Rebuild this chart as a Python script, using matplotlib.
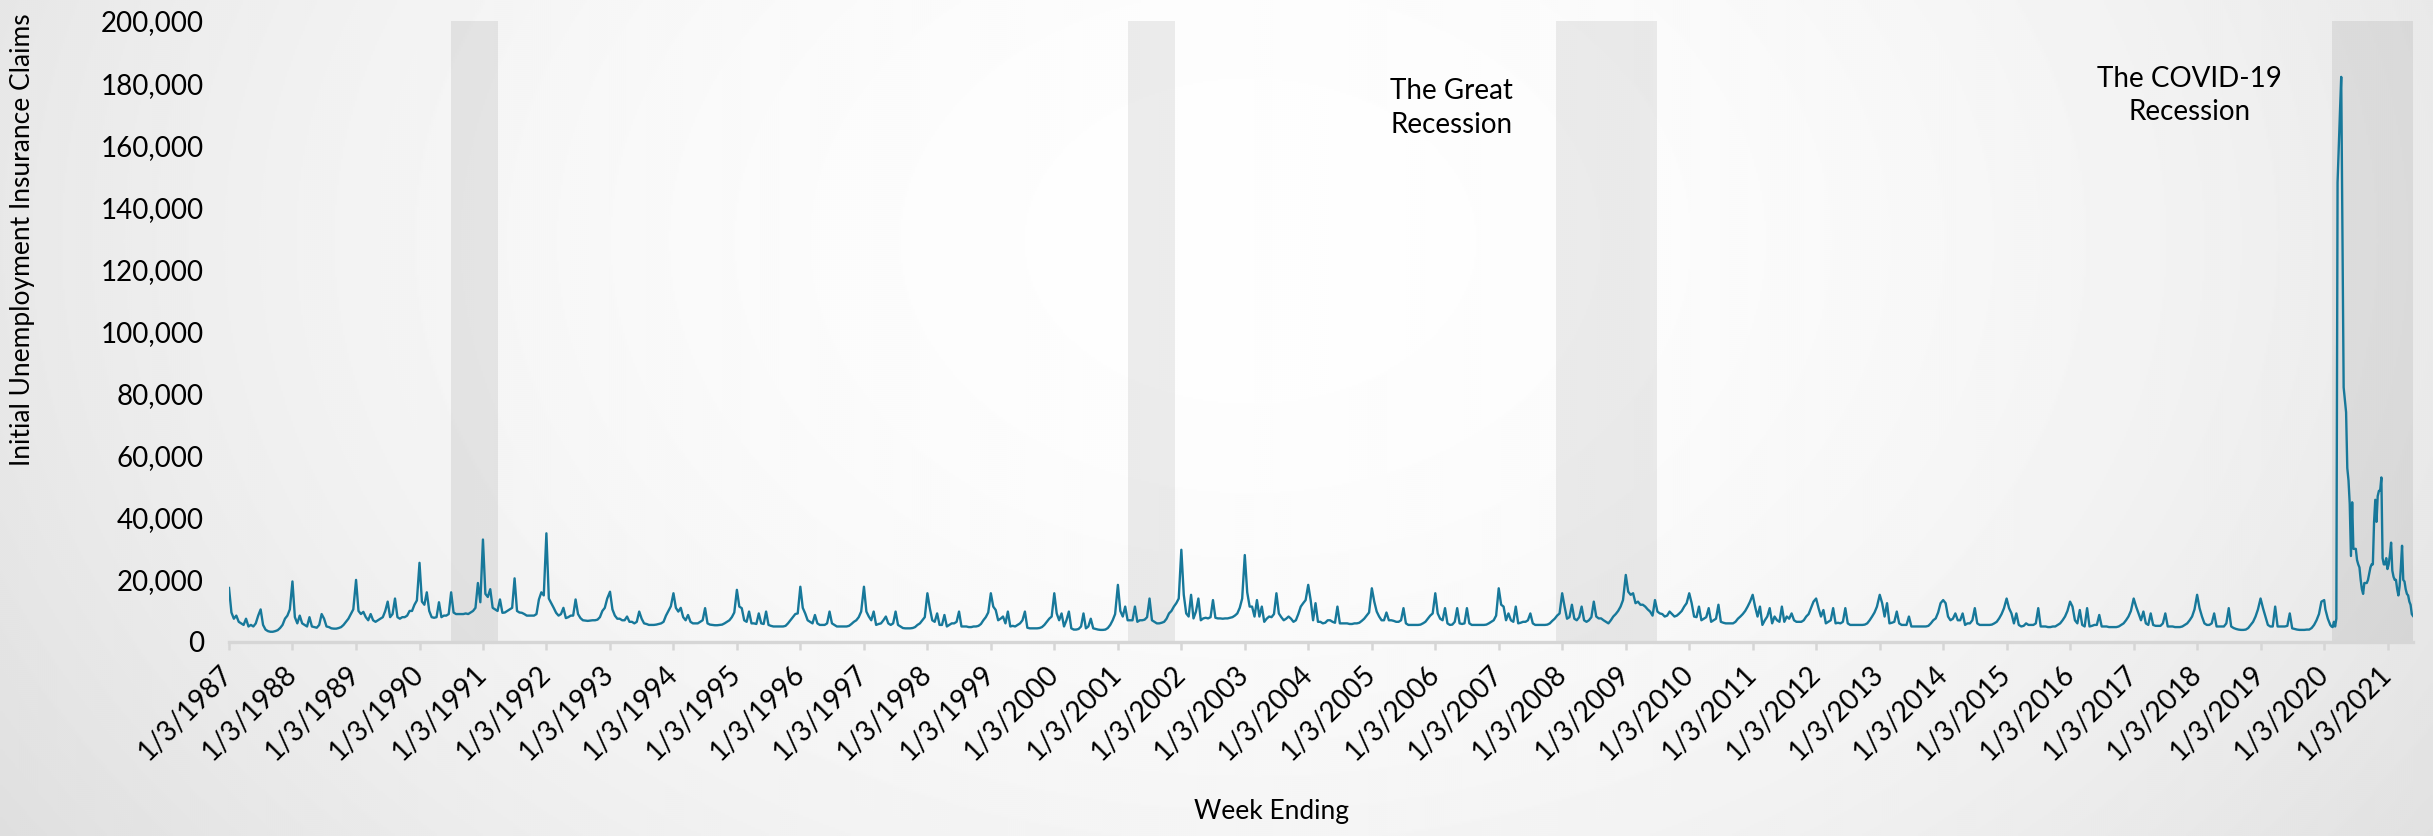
import numpy as np
import pandas as pd
import matplotlib
matplotlib.use("Agg")
import matplotlib.pyplot as plt
from matplotlib.ticker import FuncFormatter

# ---------------- data (thousands of initial claims) ----------------
# bi-weekly readings, first value = week ending Jan 3 of each year
claims_1987 = [17.4, 9.5, 7.5, 8.5, 6.5, 6.0, 5.5, 7.5, 5.0, 5.5, 5.0, 6.0, 8.5, 10.5, 5.5, 4.0, 3.5, 3.3, 3.3, 3.5, 3.8, 4.5, 5.5, 7.5, 8.5, 10.5]
claims_1988 = [19.5, 8.0, 6.0, 8.5, 6.0, 5.5, 5.0, 8.0, 5.0, 4.8, 4.6, 5.5, 9.0, 7.5, 5.0, 4.8, 4.4, 4.3, 4.3, 4.5, 4.8, 5.5, 6.5, 7.5, 9.0, 10.5]
claims_1989 = [20.0, 10.0, 9.0, 9.7, 8.0, 7.0, 9.0, 7.0, 6.5, 7.0, 7.5, 8.0, 10.0, 13.0, 8.0, 9.0, 14.0, 8.0, 7.5, 8.0, 8.0, 8.5, 10.0, 10.0, 12.0, 13.4]
claims_1990 = [25.5, 13.0, 12.0, 16.0, 10.0, 8.0, 7.8, 8.0, 12.8, 8.0, 8.5, 8.5, 9.0, 16.0, 9.5, 9.0, 9.0, 9.0, 9.0, 9.2, 9.0, 9.5, 10.0, 11.0, 19.0, 12.8]
claims_1991 = [33.0, 15.5, 14.5, 17.0, 11.0, 10.5, 10.0, 13.7, 9.4, 9.5, 10.0, 10.5, 11.0, 20.5, 10.0, 9.5, 9.4, 9.0, 8.5, 8.5, 8.5, 8.5, 9.0, 13.7, 16.0, 15.0]
claims_1992 = [35.0, 14.0, 12.5, 11.0, 9.4, 8.5, 9.0, 11.0, 7.7, 8.0, 8.5, 8.5, 13.7, 9.0, 7.7, 7.0, 6.9, 6.8, 6.9, 7.0, 7.0, 7.2, 8.0, 10.0, 11.0, 14.0]
claims_1993 = [16.2, 10.5, 8.5, 7.5, 7.5, 7.0, 7.0, 8.2, 6.5, 6.5, 6.0, 6.5, 9.8, 7.5, 6.0, 5.8, 5.5, 5.5, 5.5, 5.6, 5.8, 6.0, 6.5, 8.5, 10.0, 11.5]
claims_1994 = [15.7, 11.0, 9.8, 11.0, 8.0, 7.0, 8.7, 6.5, 6.0, 6.0, 6.0, 6.5, 7.0, 10.9, 6.0, 5.6, 5.5, 5.4, 5.4, 5.5, 5.6, 6.0, 6.5, 7.0, 8.0, 9.5]
claims_1995 = [16.8, 11.4, 10.9, 7.0, 6.5, 9.8, 6.0, 6.0, 5.8, 9.2, 6.0, 5.8, 9.8, 5.5, 5.2, 5.0, 5.0, 5.0, 5.0, 5.0, 5.2, 6.0, 7.0, 8.0, 9.0, 9.2]
claims_1996 = [17.8, 11.0, 9.2, 7.0, 6.5, 6.0, 8.7, 6.0, 5.5, 5.5, 5.5, 6.0, 9.8, 6.0, 5.5, 5.0, 5.0, 5.0, 5.0, 5.0, 5.2, 5.8, 6.5, 7.0, 8.0, 9.8]
claims_1997 = [17.8, 9.8, 8.2, 7.0, 9.8, 5.5, 5.8, 6.0, 7.0, 8.2, 6.0, 5.5, 6.0, 9.8, 5.5, 5.0, 4.5, 4.4, 4.4, 4.4, 4.5, 4.8, 5.5, 6.0, 7.0, 8.0]
claims_1998 = [15.7, 10.9, 7.0, 6.5, 9.2, 5.5, 5.5, 8.7, 5.0, 5.5, 6.0, 6.0, 6.5, 9.8, 5.0, 5.0, 5.0, 4.8, 4.8, 5.0, 5.0, 5.2, 5.8, 7.0, 8.0, 9.5]
claims_1999 = [15.7, 11.4, 10.3, 7.0, 7.5, 8.2, 6.0, 9.8, 5.0, 5.2, 5.0, 5.5, 6.0, 7.0, 9.8, 4.6, 4.4, 4.4, 4.4, 4.4, 4.5, 4.8, 5.5, 6.5, 7.5, 8.2]
claims_2000 = [15.7, 9.2, 7.0, 9.2, 5.0, 7.0, 9.8, 4.4, 4.0, 4.0, 4.2, 5.0, 9.2, 4.4, 5.0, 7.5, 4.4, 4.2, 4.0, 3.9, 3.9, 4.0, 4.5, 5.5, 7.0, 9.0]
claims_2001 = [18.4, 10.0, 8.2, 11.4, 7.0, 7.0, 7.0, 11.4, 6.5, 7.0, 7.0, 7.2, 8.0, 14.0, 7.0, 6.5, 6.0, 6.0, 6.2, 6.5, 7.5, 9.2, 10.0, 11.4, 12.5, 14.0]
claims_2002 = [29.7, 15.2, 9.2, 8.2, 15.2, 7.6, 9.8, 14.0, 7.0, 7.6, 7.8, 7.6, 8.0, 13.5, 7.8, 7.6, 7.6, 7.5, 7.6, 7.6, 7.8, 8.0, 8.5, 9.2, 11.0, 14.0]
claims_2003 = [28.0, 16.0, 11.4, 11.4, 8.2, 13.5, 8.2, 11.4, 6.5, 7.5, 8.2, 8.0, 9.0, 15.7, 9.2, 8.0, 7.0, 7.5, 8.2, 7.5, 6.5, 7.0, 9.0, 11.4, 12.5, 13.5]
claims_2004 = [18.4, 13.5, 7.0, 12.5, 6.5, 6.5, 6.0, 6.2, 7.0, 7.0, 6.5, 6.2, 11.4, 6.0, 6.0, 6.0, 6.0, 5.8, 5.8, 6.0, 6.0, 6.2, 6.8, 7.5, 8.5, 9.5]
claims_2005 = [17.3, 13.0, 9.8, 8.2, 7.0, 7.0, 9.5, 7.0, 7.0, 6.8, 6.5, 6.5, 7.0, 10.9, 6.0, 5.5, 5.5, 5.5, 5.5, 5.5, 5.6, 6.0, 6.5, 7.5, 8.5, 9.2]
claims_2006 = [15.7, 9.2, 7.5, 7.0, 10.9, 6.0, 5.5, 5.6, 6.5, 10.9, 6.0, 5.8, 6.0, 10.9, 6.0, 5.5, 5.5, 5.5, 5.5, 5.5, 5.5, 5.6, 6.0, 6.5, 7.0, 8.5]
claims_2007 = [17.3, 12.0, 11.4, 7.0, 9.2, 7.0, 6.5, 11.4, 6.0, 6.2, 6.5, 6.5, 7.0, 9.2, 6.0, 5.5, 5.5, 5.5, 5.5, 5.5, 5.6, 6.0, 6.8, 7.5, 8.5, 9.2]
claims_2008 = [15.7, 11.4, 7.5, 8.0, 12.0, 7.5, 7.0, 8.0, 11.4, 7.0, 6.5, 7.0, 8.0, 13.0, 8.2, 7.6, 7.6, 7.0, 6.5, 6.0, 7.0, 8.2, 9.0, 10.0, 11.4, 13.5]
claims_2009 = [21.6, 16.2, 15.2, 15.7, 12.5, 13.0, 12.0, 12.0, 11.4, 10.5, 9.8, 8.5, 13.5, 9.8, 9.2, 9.0, 8.2, 8.5, 9.8, 9.0, 8.2, 8.5, 9.2, 10.0, 11.4, 12.5]
claims_2010 = [15.7, 12.5, 8.2, 8.0, 11.4, 7.0, 7.5, 8.0, 10.9, 6.5, 7.0, 7.5, 12.0, 6.5, 6.2, 6.0, 6.0, 6.0, 6.0, 6.5, 7.5, 8.2, 9.0, 10.0, 11.4, 13.0]
claims_2011 = [15.2, 11.4, 8.2, 11.4, 5.5, 7.0, 8.2, 10.9, 6.0, 8.2, 7.0, 6.5, 11.4, 6.5, 8.2, 7.5, 9.2, 7.0, 6.5, 6.5, 6.5, 7.0, 8.2, 9.0, 11.0, 13.0]
claims_2012 = [14.0, 10.9, 8.2, 10.3, 6.0, 6.5, 7.0, 10.9, 6.0, 6.2, 6.0, 6.5, 10.9, 6.0, 5.5, 5.5, 5.5, 5.5, 5.5, 5.5, 5.6, 6.0, 7.0, 8.2, 9.5, 11.4]
claims_2013 = [15.2, 12.5, 8.2, 12.5, 6.0, 6.2, 6.5, 9.8, 6.0, 5.5, 5.5, 5.5, 8.2, 5.0, 5.0, 5.0, 5.0, 5.0, 5.0, 5.0, 5.2, 6.0, 7.0, 7.6, 9.5, 12.5]
claims_2014 = [13.5, 12.5, 8.2, 7.0, 7.5, 9.2, 7.0, 7.0, 9.2, 5.5, 6.0, 6.0, 7.0, 10.9, 6.0, 5.5, 5.5, 5.5, 5.5, 5.5, 5.6, 6.0, 6.5, 7.6, 9.0, 10.9]
claims_2015 = [14.0, 10.9, 9.2, 6.0, 9.2, 5.5, 5.0, 5.2, 6.0, 5.5, 5.5, 5.5, 6.0, 10.9, 5.0, 5.0, 5.0, 4.8, 4.8, 5.0, 5.0, 5.5, 6.0, 7.0, 8.2, 10.0]
claims_2016 = [13.0, 11.4, 7.0, 6.0, 10.3, 5.5, 5.0, 10.9, 5.0, 5.2, 5.5, 5.5, 8.7, 5.0, 5.0, 5.0, 4.8, 4.8, 4.8, 4.8, 5.0, 5.5, 6.0, 7.0, 8.2, 10.0]
claims_2017 = [14.0, 11.4, 9.2, 7.0, 9.8, 6.0, 5.5, 9.2, 5.5, 5.2, 5.2, 5.2, 6.0, 9.2, 5.0, 5.0, 5.0, 4.8, 4.8, 4.8, 5.0, 5.5, 6.0, 7.0, 8.2, 10.5]
claims_2018 = [15.2, 10.9, 8.2, 6.0, 5.5, 5.5, 6.0, 9.2, 5.0, 5.0, 5.0, 5.0, 6.0, 10.9, 5.0, 4.5, 4.2, 4.0, 3.9, 3.9, 4.0, 4.5, 5.5, 6.5, 8.2, 10.5]
claims_2019 = [14.0, 10.9, 8.2, 5.5, 5.0, 5.0, 11.4, 5.0, 5.0, 5.0, 5.0, 5.2, 9.2, 4.4, 4.2, 4.0, 3.9, 3.9, 3.9, 4.0, 4.0, 4.5, 5.5, 7.0, 9.0, 13.0]

# weekly readings from week ending 1/4/2020 to 5/29/2021
claims_2020_2021 = [13.5, 10.5, 9.0, 7.5, 6.5, 5.5, 5.0, 4.8, 6.5, 5.0, 7.5, 148.0, 160.0, 171.0, 182.0, 130.0,
                    82.0, 78.0, 74.0, 56.0, 52.0, 44.5, 27.7, 45.0, 30.0, 30.0, 30.0, 26.4, 25.0, 24.0, 20.0, 17.0,
                    15.5, 19.0, 19.0, 19.0, 20.0, 22.0, 24.0, 25.0, 25.0, 38.7, 45.8, 38.7, 47.0, 48.7, 48.7, 53.0,
                    27.0, 25.0, 25.0, 27.0, 23.5, 25.0, 28.0, 32.0, 23.0, 21.0, 20.0, 20.0, 17.0, 15.0, 18.0, 24.0,
                    31.0, 20.0, 19.5, 17.0, 15.5, 15.0, 13.0, 12.0, 9.0, 8.4]

first_year = 1987
weekly_start = "2020-01-04"

recession_starts = ["1990-07-01", "2001-03-01", "2007-12-01", "2020-02-20"]
recession_ends = ["1991-03-31", "2001-11-30", "2009-06-30", "2021-05-29"]

annotation_texts = ["The Great\nRecession", "The COVID-19\nRecession"]
annotation_dates = ["2006-04-05", "2017-11-20"]
annotation_values = [172000, 176000]

y_ticks = [0, 20000, 40000, 60000, 80000, 100000, 120000, 140000, 160000, 180000, 200000]
tick_years = list(range(1987, 2022))

# ---------------- build series ----------------
yearly = [claims_1987, claims_1988, claims_1989, claims_1990, claims_1991, claims_1992, claims_1993,
          claims_1994, claims_1995, claims_1996, claims_1997, claims_1998, claims_1999, claims_2000,
          claims_2001, claims_2002, claims_2003, claims_2004, claims_2005, claims_2006, claims_2007,
          claims_2008, claims_2009, claims_2010, claims_2011, claims_2012, claims_2013, claims_2014,
          claims_2015, claims_2016, claims_2017, claims_2018, claims_2019]

dates, values = [], []
for k, lst in enumerate(yearly):
    base = pd.Timestamp(f"{first_year + k}-01-03")
    for i, v in enumerate(lst):
        dates.append(base + pd.Timedelta(days=14 * i))
        values.append(v * 1000)
wbase = pd.Timestamp(weekly_start)
for i, v in enumerate(claims_2020_2021):
    dates.append(wbase + pd.Timedelta(days=7 * i))
    values.append(v * 1000)
series = pd.Series(values, index=pd.DatetimeIndex(dates))

# ---------------- figure ----------------
W, H, DPI = 2433, 836, 100
fig = plt.figure(figsize=(W / DPI, H / DPI), dpi=DPI)
plt.rcParams["font.family"] = ["Lato", "DejaVu Sans"]

# radial gradient background
bg = fig.add_axes([0, 0, 1, 1], zorder=-10)
yy, xx = np.mgrid[0:H:2, 0:W:2]
r2 = ((xx - 1250) / 1250.0) ** 2 + ((yy - 240) / 900.0) ** 2
grad = np.clip(0.995 - 0.085 * r2, 0, 1)
bg.imshow(grad, cmap="gray", vmin=0, vmax=1, extent=[0, 1, 0, 1], aspect="auto",
          interpolation="bilinear", origin="upper")
bg.set_axis_off()

ax = fig.add_axes([229 / W, 1 - 642 / H, 2184 / W, 621 / H])
ax.set_facecolor("none")

for s, e in zip(recession_starts, recession_ends):
    ax.axvspan(pd.Timestamp(s), pd.Timestamp(e), ymin=0, ymax=1, color="black", alpha=0.07, lw=0, zorder=0)

ax.plot(series.index, series.values, color="#17789a", lw=1.7, solid_joinstyle="round", zorder=3)

ax.set_xlim(series.index[0], series.index[-1])
ax.set_ylim(0, 200000)
ax.set_yticks(y_ticks)
ax.yaxis.set_major_formatter(FuncFormatter(lambda v, p: f"{v:,.0f}"))
ax.tick_params(axis="y", length=0, pad=18, labelsize=20, labelcolor="black")

xt = [pd.Timestamp(f"{y}-01-03") for y in tick_years]
ax.set_xticks(xt)
ax.set_xticklabels([f"1/3/{y}" for y in tick_years])
ax.tick_params(axis="x", length=6, width=1.8, color="#d6d6d6", pad=14, labelsize=20, labelcolor="black")
for lab in ax.get_xticklabels():
    lab.set_rotation(45)
    lab.set_ha("right")
    lab.set_va("center")
    lab.set_rotation_mode("anchor")

for side in ["left", "right", "top"]:
    ax.spines[side].set_visible(False)
ax.spines["bottom"].set_color("#d6d6d6")
ax.spines["bottom"].set_linewidth(2.4)

for t, d, v in zip(annotation_texts, annotation_dates, annotation_values):
    ax.text(pd.Timestamp(d), v, t, ha="center", va="center", fontsize=20, color="black",
            linespacing=1.35, zorder=4)

fig.text(23 / W, 1 - 240 / H, "Initial Unemployment Insurance Claims", rotation=90,
         ha="center", va="center", fontsize=19, color="black")
fig.text(1272 / W, 1 - 812 / H, "Week Ending", ha="center", va="center", fontsize=19, color="black")

fig.savefig("out.png", dpi=DPI)
